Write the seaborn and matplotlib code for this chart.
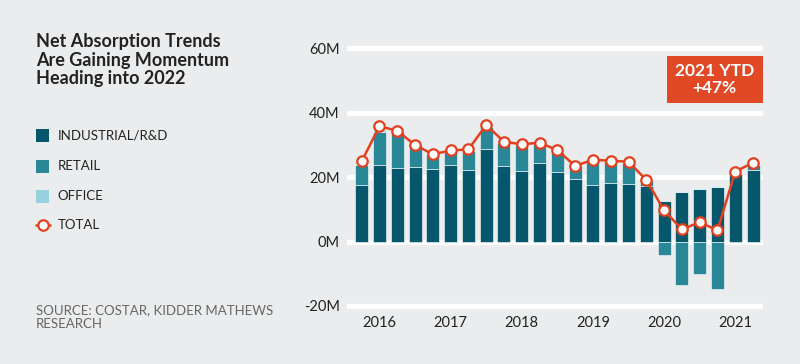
import numpy as np
import seaborn as sns
from matplotlib import pyplot as plt
from matplotlib.patches import Rectangle
from matplotlib.lines import Line2D

# quarterly net absorption, 2016 Q1 - 2021 Q3 (millions of sq ft)
quarters = [f"{y} Q{q}" for y in range(2016, 2022) for q in range(1, 5)][:23]
industrial = [17.6, 23.9, 22.9, 23.1, 22.6, 23.7, 22.2, 28.8, 23.6, 22.0, 24.4, 21.6,
              19.4, 17.6, 18.1, 17.9, 17.4, 12.6, 15.4, 16.3, 16.9, 21.0, 22.2]
retail = [6.1, 10.2, 11.0, 6.8, 4.6, 4.1, 6.0, 6.9, 6.9, 8.1, 5.9, 6.2,
          4.1, 7.5, 6.8, 6.6, 1.4, -4.3, -13.6, -10.1, -14.8, 0.2, 1.6]
office = [0.4, 0.5, 0.3, 0.3, 0.3, 0.3, 0.3, 0.4, 0.3, 0.3, 0.3, 0.3,
          0.3, 0.3, 0.3, 0.3, 0.3, 0.3, 0.3, 0.3, 0.3, 0.3, 0.3]
total = [24.9, 35.8, 34.4, 30.0, 27.1, 28.3, 28.6, 36.2, 31.0, 30.2, 30.7, 28.4,
         23.5, 25.4, 25.1, 24.8, 19.1, 9.7, 3.8, 6.0, 3.5, 21.7, 24.5]
year_labels = ["2016", "2017", "2018", "2019", "2020", "2021"]
year_pos = [1, 5, 9, 13, 17, 21]
yticks = [-20, 0, 20, 40, 60]

bg = "#eaeced"
c_ind = "#06566c"
c_ret = "#2a8798"
c_off = "#96d2de"
c_red = "#e2401f"
c_txt = "#222222"

sns.set_style("white")
plt.rcParams['font.family'] = ['Lato', 'DejaVu Sans']

fig = plt.figure(figsize=(8, 3.64), dpi=100, facecolor=bg)
ax = fig.add_axes([0.4334, 0.1505, 0.5208, 0.7256])
ax.set_facecolor(bg)

ind = np.array(industrial)
ret = np.array(retail)
ret_bottom = np.where(ret >= 0, ind, 0)
off_bottom = ind + np.clip(ret, 0, None)

bar_kw = dict(width=0.73, saturation=1, errorbar=None, ax=ax,
              edgecolor="white", linewidth=0.4, zorder=2)
sns.barplot(x=quarters, y=industrial, color=c_ind, **bar_kw)
sns.barplot(x=quarters, y=retail, bottom=ret_bottom, color=c_ret, **bar_kw)
sns.barplot(x=quarters, y=office, bottom=off_bottom, color=c_off, **bar_kw)

sns.lineplot(x=np.arange(len(total)), y=total, color=c_red, lw=1.8, ax=ax,
             marker="o", markersize=7.5, markerfacecolor="white",
             markeredgecolor=c_red, markeredgewidth=1.6, zorder=4, legend=False)

ax.set_ylim(-21, 61)
ax.set_xlim(-0.84, 22.58)
ax.set_yticks(yticks)
ax.set_yticklabels([f"{v}M" for v in yticks], fontsize=10.5, color=c_txt)
ax.set_xticks(year_pos)
ax.set_xticklabels(year_labels, fontsize=10.5, color=c_txt)
ax.tick_params(length=0, axis="y", pad=5)
ax.tick_params(length=0, axis="x", pad=5)
ax.yaxis.grid(True, color="white", lw=3.8)
ax.set_axisbelow(True)
ax.set_xlabel("")
ax.set_ylabel("")
sns.despine(ax=ax, left=True, bottom=True)

# title
fig.text(36 / 800, 1 - 33.5 / 364, "Net Absorption Trends\nAre Gaining Momentum\nHeading into 2022",
         ha="left", va="top", fontsize=13, fontweight="bold", color=c_txt, linespacing=1.1)

# legend
items = [("INDUSTRIAL/R&D", c_ind, 136), ("RETAIL", c_ret, 166), ("OFFICE", c_off, 196)]
for label, col, yc in items:
    fig.add_artist(Rectangle((36 / 800, 1 - (yc + 6.5) / 364), 13 / 800, 13 / 364,
                             transform=fig.transFigure, facecolor=col, edgecolor="none"))
    fig.text(57.5 / 800, 1 - yc / 364, label, ha="left", va="center", fontsize=9.5, color=c_txt)
fig.add_artist(Line2D([36 / 800, 50 / 800], [1 - 225 / 364] * 2, transform=fig.transFigure,
                      color=c_red, lw=1.8))
fig.add_artist(Line2D([43 / 800], [1 - 225 / 364], transform=fig.transFigure, marker="o",
                      markersize=7.5, markerfacecolor="white", markeredgecolor=c_red,
                      markeredgewidth=1.6))
fig.text(57.5 / 800, 1 - 225 / 364, "TOTAL", ha="left", va="center", fontsize=9.5, color=c_txt)

# source
fig.text(36 / 800, 1 - 304 / 364, "SOURCE: COSTAR, KIDDER MATHEWS\nRESEARCH", ha="left", va="top",
         fontsize=9.5, color="#666666", linespacing=1.25)

# callout box
fig.add_artist(Rectangle((666.7 / 800, 1 - 103.3 / 364), 96 / 800, 47.3 / 364,
                         transform=fig.transFigure, facecolor="#e04826", edgecolor="none"))
fig.text(714.7 / 800, 1 - 79.6 / 364, "2021 YTD\n+47%", ha="center", va="center",
         fontsize=12.5, fontweight="bold", color="white", linespacing=1.1)

plt.savefig("out.png", dpi=100, facecolor=bg)
